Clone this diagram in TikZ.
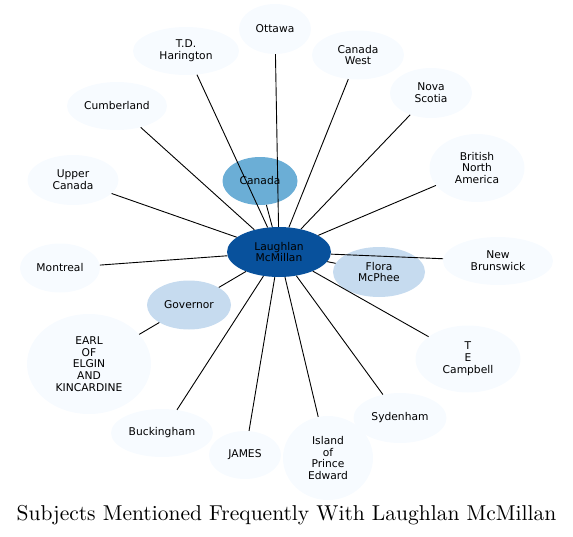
\documentclass[tikz,border=0pt]{standalone}
\usepackage{fontspec}
\setmainfont{DejaVu Sans}
\newfontfamily\titlefont{lmroman10-regular.otf}
\usetikzlibrary{shapes.geometric}
\definecolor{bl0}{HTML}{F7FBFF}
\definecolor{bl1}{HTML}{C6DBEF}
\definecolor{bl2}{HTML}{6BAED6}
\definecolor{bl3}{HTML}{08519C}
\tikzset{
  ent/.style={ellipse, draw=none, fill=bl0, inner sep=0pt, align=center,
    font=\fontsize{10.7}{11.8}\selectfont, text=black},
  link/.style={draw=black, line width=0.9pt},
}
\newcommand{\nd}[6]{\node[ent, fill=#6, minimum width=#4pt, minimum height=#5pt] (#1) at (#2,#3)}
\begin{document}
\begin{tikzpicture}[x=1pt, y=-1pt]
\useasboundingbox (0,0) rectangle (573,536);
\node[ent, minimum width=72pt, minimum height=50pt] (ottawa) at (275,29) {Ottawa};
\node[ent, minimum width=106pt, minimum height=48pt] (td) at (186,51) {T.D.\\Harington};
\node[ent, minimum width=92pt, minimum height=49pt] (cw) at (358,55) {Canada\\West};
\node[ent, minimum width=82pt, minimum height=50pt] (ns) at (431,93) {Nova\\Scotia};
\node[ent, minimum width=100pt, minimum height=48pt] (cumb) at (117,106) {Cumberland};
\node[ent, minimum width=95pt, minimum height=68pt] (bna) at (477,168) {British\\North\\America};
\node[ent, minimum width=91pt, minimum height=50pt] (uc) at (73,180) {Upper\\Canada};
\node[ent, fill=bl2, minimum width=75pt, minimum height=48pt] (canada) at (260,181) {Canada};
\node[ent, fill=bl3, minimum width=104pt, minimum height=50pt] (lm) at (279,252) {Laughlan\\McMillan};
\node[ent, fill=bl1, minimum width=92pt, minimum height=50pt] (flora) at (379,272) {Flora\\McPhee};
\node[ent, minimum width=110pt, minimum height=48pt] (nb) at (498,261) {New\\Brunswick};
\node[ent, minimum width=80pt, minimum height=49pt] (mont) at (60,268) {Montreal};
\node[ent, fill=bl1, minimum width=84pt, minimum height=49pt] (gov) at (189,305) {Governor};
\node[ent, minimum width=124pt, minimum height=100pt] (earl) at (89,364) {EARL\\OF\\ELGIN\\AND\\KINCARDINE};
\node[ent, minimum width=105pt, minimum height=67pt] (te) at (468,359) {T\\E\\Campbell};
\node[ent, minimum width=93pt, minimum height=50pt] (syd) at (400,418) {Sydenham};
\node[ent, minimum width=102pt, minimum height=48pt] (buck) at (162,433) {Buckingham};
\node[ent, minimum width=72pt, minimum height=48pt] (james) at (245,455) {JAMES};
\node[ent, minimum width=90pt, minimum height=84pt] (ipe) at (328,458) {Island\\of\\Prince\\Edward};
\foreach \t in {ottawa,td,cw,ns,cumb,bna,uc,canada,flora,nb,mont,gov,te,syd,buck,james,ipe}
  \draw[link] (lm) -- (\t);
\draw[link] (gov) -- (earl);
\node[anchor=base, inner sep=0pt, font=\titlefont\fontsize{21.5}{24}\selectfont] (title) at (286.5,520) {Subjects Mentioned Frequently With Laughlan McMillan};
\end{tikzpicture}
\end{document}
